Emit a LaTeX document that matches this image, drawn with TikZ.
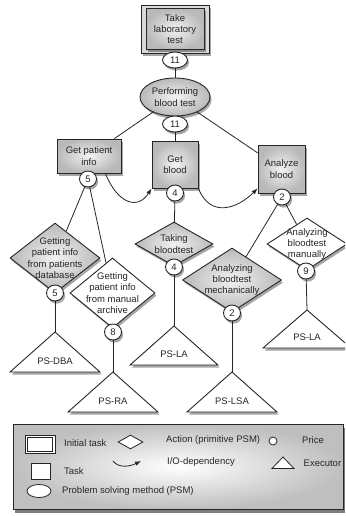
\documentclass[tikz,border=0pt]{standalone}
\usepackage{fontspec}
\setmainfont{Liberation Sans}
\usetikzlibrary{shapes.geometric,shadows,arrows.meta}
\pgfdeclarelayer{bg}
\pgfsetlayers{bg,main}

\begin{document}
\begin{tikzpicture}[x=1pt,y=-1pt,
  font=\fontsize{9.5}{11.3}\selectfont,
  txt/.style={text=black!85,align=center,inner sep=0pt},
  shadowed/.style={drop shadow={shadow xshift=1.6pt,shadow yshift=-2.6pt,opacity=0.35,fill=black}},
  grayfill/.style={shade,inner color=gray!10,outer color=gray!55},
  task/.style={draw=black!85,line width=0.9pt,grayfill,shadowed,txt,
    minimum width=#1},
  psm/.style={ellipse,draw=black!85,line width=0.9pt,grayfill,shadowed,txt,
    minimum width=70pt,minimum height=38pt},
  price/.style={ellipse,draw=black!85,line width=0.9pt,fill=white,shadowed,txt,
    minimum width=17pt,minimum height=16pt},
  wideprice/.style={price,minimum width=25pt},
  action/.style={diamond,draw=black!85,line width=0.9pt,shadowed,inner sep=0pt},
  grayaction/.style={action,grayfill},
  whiteaction/.style={action,fill=white},
  executor/.style={draw=black!85,line width=0.9pt,fill=white,shadowed,line join=miter},
  conn/.style={draw=black!85,line width=0.8pt},
  io/.style={conn,-{Latex[length=6pt,width=4.5pt]}},
  key/.style={draw=black!85,line width=0.8pt,fill=white},
  keytext/.style={text=black!85,anchor=west,inner sep=0pt}]
\useasboundingbox (0,0) rectangle (345,516);
\clip (0,0) rectangle (345,516);

% ---------- initial task ----------
\node[draw=black!85,line width=0.9pt,fill=gray!30,shadowed,
      minimum width=68pt,minimum height=48pt] (take) at (175,29) {};
\node[task=58pt,minimum height=41pt,drop shadow={opacity=0}] (takein) at (175,29)
  {Take\\laboratory\\test};

% ---------- problem solving method ----------
\node[psm] (pbt) at (175,97) {Performing\\blood test};

% ---------- tasks ----------
\node[task=64pt,minimum height=34pt] (gpi) at (89,156) {Get patient\\info};
\node[task=46pt,minimum height=47pt] (gb)  at (175,164.5) {Get\\blood};
\node[task=47pt,minimum height=48pt] (ab)  at (281.5,169) {Analyze\\blood};

% ---------- actions ----------
\node[grayaction,minimum width=90pt,minimum height=70pt] (db) at (55,258) {};
\node[txt] (dbt) at (db) {Getting\\patient info\\from patients\\database};
\node[whiteaction,minimum width=85pt,minimum height=70pt] (ma) at (112.5,293) {};
\node[txt] (mat) at (ma) {Getting\\patient info\\from manual\\archive};
\node[grayaction,minimum width=78pt,minimum height=44pt] (tb) at (174,244) {};
\node[txt] (tbt) at (tb) {Taking\\bloodtest};
\node[grayaction,minimum width=99pt,minimum height=64pt] (me) at (232,280) {};
\node[txt] (met) at (me) {Analyzing\\bloodtest\\mechanically};
\node[whiteaction,minimum width=80pt,minimum height=52pt] (am) at (307,244) {};
\node[txt] (amt) at (am) {Analyzing\\bloodtest\\manually};

% ---------- executors ----------
\filldraw[executor] (55,332) -- (100,372) -- (10,372) -- cycle;
\coordinate (dba) at (55,332);
\node[txt] (dbal) at (55,361) {PS-DBA};
\filldraw[executor] (113,372) -- (158,412) -- (68,412) -- cycle;
\coordinate (ra) at (113,372);
\node[txt] (ral) at (113,401) {PS-RA};
\filldraw[executor] (174,326) -- (218,365) -- (130,365) -- cycle;
\coordinate (la) at (174,326);
\node[txt] (lal) at (174,354) {PS-LA};
\filldraw[executor] (232,372) -- (277,412) -- (187,412) -- cycle;
\coordinate (lsa) at (232,372);
\node[txt] (lsal) at (232,401) {PS-LSA};
\filldraw[executor] (307,310) -- (351,348) -- (263,348) -- cycle;
\coordinate (lb) at (307,310);
\node[txt] (lbl) at (307,337) {PS-LA};

% ---------- prices ----------
\node[wideprice] (p11a) at (175,60)  {11};
\node[wideprice] (p11b) at (175,124) {11};
\node[price] (p5a) at (88,179)  {5};
\node[price] (p4a) at (175,193) {4};
\node[price] (p2a) at (282,197) {2};
\node[price] (p5b) at (55,293)  {5};
\node[price] (p8)  at (113,332) {8};
\node[price] (p4b) at (174,267) {4};
\node[price] (p2b) at (232,313) {2};
\node[price] (p9)  at (306,271) {9};

% ---------- decomposition links ----------
\begin{pgfonlayer}{bg}
\draw[conn] (p11a) -- (pbt);
\draw[conn] (pbt) -- (p11b);
\draw[conn] (p11b) -- (gb);
\draw[conn] (pbt) -- (gpi);
\draw[conn] (pbt) -- (ab);
\draw[conn] (p5a) -- (db);
\draw[conn] (p5a) -- (ma);
\draw[conn] (p4a) -- (tb);
\draw[conn] (p2a) -- (me);
\draw[conn] (p2a) -- (am);
\draw[conn] (p5b) -- (dba);
\draw[conn] (p8) -- (ra);
\draw[conn] (p4b) -- (la);
\draw[conn] (p2b) -- (lsa);
\draw[conn] (p9) -- (lb);
\end{pgfonlayer}

% ---------- I/O dependencies ----------
\draw[io] ([xshift=-16pt]gpi.south east) .. controls +(12,30) and +(-14,22) .. (gb.south west);
\draw[io] (gb.south east) .. controls +(12,30) and +(-20,20) .. ([yshift=5pt]ab.south west);

% ---------- key ----------
\node[draw=black!85,line width=0.9pt,shade,inner color=white,outer color=gray!50,
      drop shadow={shadow xshift=1.5pt,shadow yshift=-3.5pt,opacity=0.5,fill=black},
      minimum width=330pt,minimum height=85pt] (legend) at (178,466.5) {};

\node[key,minimum width=30pt,minimum height=18pt,inner sep=0pt] (kinit) at (40,444) {};
\node[key,minimum width=25pt,minimum height=14pt,inner sep=0pt] (kinitin) at (40,444) {};
\node[keytext] (linit) at (64,443) {Initial task};

\node[key,diamond,minimum width=25pt,minimum height=14pt,inner sep=0pt] (kact) at (130.5,442) {};
\node[keytext] (lact) at (166,440) {Action (primitive PSM)};

\node[key,circle,minimum size=8pt,inner sep=0pt] (kprice) at (273,441) {};
\node[keytext] (lprice) at (302,440) {Price};

\node[key,minimum width=19pt,minimum height=16pt,inner sep=0pt] (ktask) at (40.5,471) {};
\node[keytext] (ltask) at (64,471.5) {Task};

\coordinate (kioa) at (113,461);
\coordinate (kiob) at (141,461);
\draw[io] (kioa) .. controls +(6,8) and +(-10,5) .. (kiob);
\node[keytext] (lio) at (167,462.5) {I/O-dependency};

\filldraw[key] (283,457) -- (294,468.5) -- (272,468.5) -- cycle;
\coordinate (kexec) at (283,457);
\node[keytext] (lexec) at (303.5,463.5) {Executor};

\node[key,ellipse,minimum width=24pt,minimum height=13pt,inner sep=0pt] (kpsm) at (39,491) {};
\node[keytext] (lpsm) at (62,491.5) {Problem solving method (PSM)};
\end{tikzpicture}
\end{document}
